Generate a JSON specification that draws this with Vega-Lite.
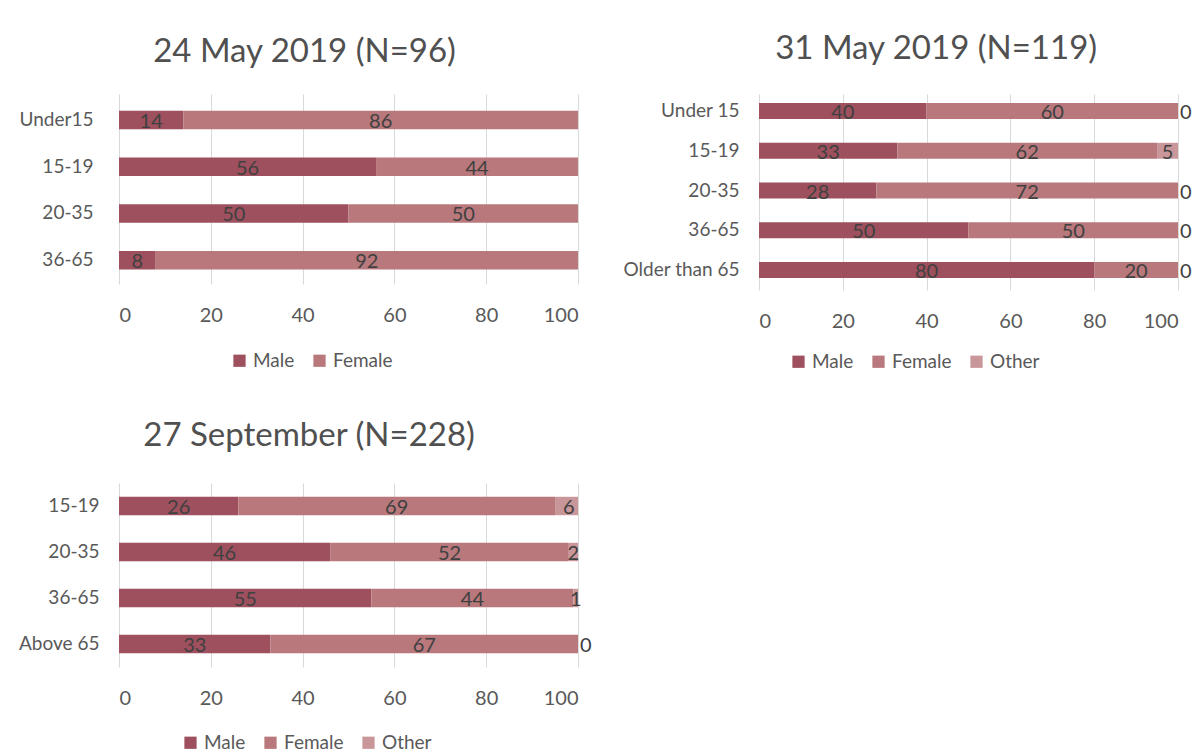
{
  "$schema": "https://vega.github.io/schema/vega-lite/v6.json",
  "background": "white",
  "padding": {"left": 18, "top": 33, "right": 5, "bottom": 0},
  "bounds": "flush",
  "datasets": {
    "d1": [
      {"age": "Under15", "gender": "Male", "k": 1, "value": 14},
      {"age": "Under15", "gender": "Female", "k": 2, "value": 86},
      {"age": "15-19", "gender": "Male", "k": 1, "value": 56},
      {"age": "15-19", "gender": "Female", "k": 2, "value": 44},
      {"age": "20-35", "gender": "Male", "k": 1, "value": 50},
      {"age": "20-35", "gender": "Female", "k": 2, "value": 50},
      {"age": "36-65", "gender": "Male", "k": 1, "value": 8},
      {"age": "36-65", "gender": "Female", "k": 2, "value": 92}
    ],
    "d2": [
      {"age": "Under 15", "gender": "Male", "k": 1, "value": 40},
      {"age": "Under 15", "gender": "Female", "k": 2, "value": 60},
      {"age": "Under 15", "gender": "Other", "k": 3, "value": 0},
      {"age": "15-19", "gender": "Male", "k": 1, "value": 33},
      {"age": "15-19", "gender": "Female", "k": 2, "value": 62},
      {"age": "15-19", "gender": "Other", "k": 3, "value": 5},
      {"age": "20-35", "gender": "Male", "k": 1, "value": 28},
      {"age": "20-35", "gender": "Female", "k": 2, "value": 72},
      {"age": "20-35", "gender": "Other", "k": 3, "value": 0},
      {"age": "36-65", "gender": "Male", "k": 1, "value": 50},
      {"age": "36-65", "gender": "Female", "k": 2, "value": 50},
      {"age": "36-65", "gender": "Other", "k": 3, "value": 0},
      {"age": "Older than 65", "gender": "Male", "k": 1, "value": 80},
      {"age": "Older than 65", "gender": "Female", "k": 2, "value": 20},
      {"age": "Older than 65", "gender": "Other", "k": 3, "value": 0}
    ],
    "d3": [
      {"age": "15-19", "gender": "Male", "k": 1, "value": 26},
      {"age": "15-19", "gender": "Female", "k": 2, "value": 69},
      {"age": "15-19", "gender": "Other", "k": 3, "value": 6},
      {"age": "20-35", "gender": "Male", "k": 1, "value": 46},
      {"age": "20-35", "gender": "Female", "k": 2, "value": 52},
      {"age": "20-35", "gender": "Other", "k": 3, "value": 2},
      {"age": "36-65", "gender": "Male", "k": 1, "value": 55},
      {"age": "36-65", "gender": "Female", "k": 2, "value": 44},
      {"age": "36-65", "gender": "Other", "k": 3, "value": 1},
      {"age": "Above 65", "gender": "Male", "k": 1, "value": 33},
      {"age": "Above 65", "gender": "Female", "k": 2, "value": 67},
      {"age": "Above 65", "gender": "Other", "k": 3, "value": 0}
    ]
  },
  "resolve": {"scale": {"color": "independent", "x": "independent", "y": "independent"}, "legend": {"color": "independent"}},
  "spacing": 389,
  "vconcat": [
    {
      "resolve": {"scale": {"color": "independent", "x": "independent", "y": "independent"}, "legend": {"color": "independent"}},
      "bounds": "flush",
      "spacing": 181,
      "hconcat": [
        {
          "title": {"text": "24 May 2019 (N=96)", "offset": 25, "dx": 6},
          "width": 459,
          "height": 190,
          "data": {"name": "d1"},
          "transform": [
            {"stack": "value", "groupby": ["age"], "sort": [{"field": "k"}], "as": ["x0", "x1"]},
            {"calculate": "(datum.x0 + datum.x1) / 2", "as": "mid"}
          ],
          "encoding": {
            "y": {"field": "age", "type": "nominal", "sort": ["Under15", "15-19", "20-35", "36-65"], "scale": {"paddingInner": 0.6, "paddingOuter": 0.332, "align": 0.536}, "axis": {"title": null, "labelPadding": 26}}
          },
          "layer": [
            {
              "mark": {"type": "bar"},
              "encoding": {
                "x": {"field": "x0", "type": "quantitative", "scale": {"domain": [0, 100], "nice": false, "clamp": true}, "axis": {"title": null, "values": [0, 20, 40, 60, 80, 100], "grid": true, "labelPadding": 21, "labelFontSize": 20}},
                "x2": {"field": "x1"},
                "color": {"field": "gender", "type": "nominal", "scale": {"domain": ["Male", "Female"], "range": ["#9E505E", "#B8787C"]}, "legend": {"title": null, "orient": "none", "direction": "horizontal", "legendX": 111, "legendY": 257}}
              }
            },
            {
              "transform": [{"filter": "datum.value > 0"}],
              "mark": {"type": "text", "align": "center", "baseline": "middle", "dy": 2, "fontSize": 20, "font": "Lato", "color": "#404040"},
              "encoding": {"x": {"field": "mid", "type": "quantitative"}, "text": {"field": "value", "type": "quantitative"}}
            }
          ]
        },
        {
          "title": {"text": "31 May 2019 (N=119)", "offset": 28, "dx": 29},
          "width": 419,
          "height": 196,
          "data": {"name": "d2"},
          "transform": [
            {"stack": "value", "groupby": ["age"], "sort": [{"field": "k"}], "as": ["x0", "x1"]},
            {"calculate": "(datum.x0 + datum.x1) / 2", "as": "mid"}
          ],
          "encoding": {
            "y": {"field": "age", "type": "nominal", "sort": ["Under 15", "15-19", "20-35", "36-65", "Older than 65"], "scale": {"paddingInner": 0.6, "paddingOuter": 0.2654, "align": 0.43}, "axis": {"title": null, "labelPadding": 20}}
          },
          "layer": [
            {
              "mark": {"type": "bar"},
              "encoding": {
                "x": {"field": "x0", "type": "quantitative", "scale": {"domain": [0, 100], "nice": false, "clamp": true}, "axis": {"title": null, "values": [0, 20, 40, 60, 80, 100], "grid": true, "labelPadding": 21, "labelFontSize": 20}},
                "x2": {"field": "x1"},
                "color": {"field": "gender", "type": "nominal", "scale": {"domain": ["Male", "Female", "Other"], "range": ["#9E505E", "#B8787C", "#C9969A"]}, "legend": {"title": null, "orient": "none", "direction": "horizontal", "legendX": 30, "legendY": 258}}
              }
            },
            {
              "transform": [{"filter": "datum.value > 0"}],
              "mark": {"type": "text", "align": "center", "baseline": "middle", "dy": 2, "fontSize": 20, "font": "Lato", "color": "#404040"},
              "encoding": {"x": {"field": "mid", "type": "quantitative"}, "text": {"field": "value", "type": "quantitative"}}
            },
            {
              "transform": [{"filter": "datum.value == 0"}],
              "mark": {"type": "text", "align": "left", "baseline": "middle", "dx": 2, "dy": 2, "fontSize": 20, "font": "Lato", "color": "#404040"},
              "encoding": {"x": {"field": "mid", "type": "quantitative"}, "text": {"field": "value", "type": "quantitative"}}
            }
          ]
        }
      ]
    },
    {
      "title": {"text": "27 September (N=228)", "offset": 30, "dx": 4},
      "width": 459,
      "height": 184,
      "data": {"name": "d3"},
      "transform": [
        {"stack": "value", "groupby": ["age"], "sort": [{"field": "k"}], "as": ["x0", "x1"]},
        {"calculate": "(datum.x0 + datum.x1) / 2", "as": "mid"}
      ],
      "encoding": {
        "y": {"field": "age", "type": "nominal", "sort": ["15-19", "20-35", "36-65", "Above 65"], "scale": {"paddingInner": 0.6, "paddingOuter": 0.3}, "axis": {"title": null, "labelPadding": 20}}
      },
      "layer": [
        {
          "mark": {"type": "bar"},
          "encoding": {
            "x": {"field": "x0", "type": "quantitative", "scale": {"domain": [0, 100], "nice": false, "clamp": true}, "axis": {"title": null, "values": [0, 20, 40, 60, 80, 100], "grid": true, "labelPadding": 21, "labelFontSize": 20}},
            "x2": {"field": "x1"},
            "color": {"field": "gender", "type": "nominal", "scale": {"domain": ["Male", "Female", "Other"], "range": ["#9E505E", "#B8787C", "#C9969A"]}, "legend": {"title": null, "orient": "none", "direction": "horizontal", "legendX": 62, "legendY": 250}}
          }
        },
        {
          "transform": [{"filter": "datum.value > 0"}],
          "mark": {"type": "text", "align": "center", "baseline": "middle", "dy": 2, "fontSize": 20, "font": "Lato", "color": "#404040"},
          "encoding": {"x": {"field": "mid", "type": "quantitative"}, "text": {"field": "value", "type": "quantitative"}}
        },
        {
          "transform": [{"filter": "datum.value == 0"}],
          "mark": {"type": "text", "align": "left", "baseline": "middle", "dx": 2, "dy": 2, "fontSize": 20, "font": "Lato", "color": "#404040"},
          "encoding": {"x": {"field": "mid", "type": "quantitative"}, "text": {"field": "value", "type": "quantitative"}}
        }
      ]
    }
  ],
  "config": {
    "font": "Lato",
    "view": {"stroke": null},
    "title": {"font": "Lato", "fontSize": 33, "fontWeight": "normal", "color": "#505050", "anchor": "middle", "frame": "bounds"},
    "axis": {"labelFont": "Lato", "labelFontSize": 19, "labelColor": "#595959", "ticks": false, "domain": false, "grid": false, "gridColor": "#d9d9d9", "gridWidth": 1},
    "legend": {"labelFont": "Lato", "labelFontSize": 19, "labelColor": "#595959", "symbolType": "square", "symbolSize": 150, "symbolStrokeWidth": 0, "symbolOpacity": 1, "columnPadding": 15, "labelOffset": 4}
  }
}
